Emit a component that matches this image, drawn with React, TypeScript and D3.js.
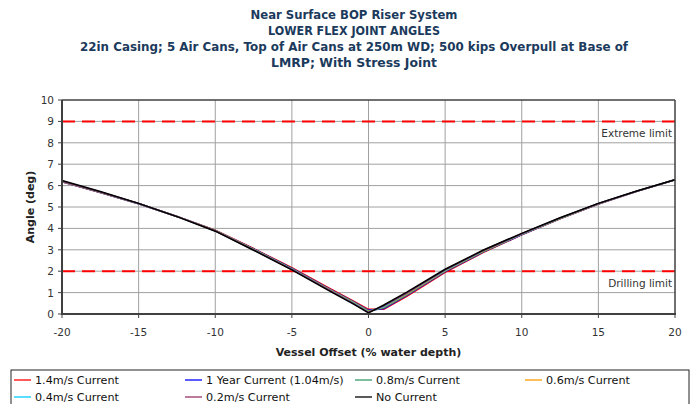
import React from "react";
import * as d3 from "d3";

const offsets = [-20, -17.5, -15, -12.5, -10, -7.5, -5, -2.5, -1, 0, 1, 2.5, 5, 7.5, 10, 12.5, 15, 17.5, 20];

const current14 = [6.18, 5.68, 5.15, 4.56, 3.92, 3.06, 2.16, 1.18, 0.61, 0.22, 0.22, 0.82, 1.95, 2.88, 3.70, 4.45, 5.14, 5.73, 6.27];
const current1yr = [6.18, 5.68, 5.15, 4.56, 3.91, 3.04, 2.13, 1.15, 0.58, 0.17, 0.26, 0.87, 1.98, 2.90, 3.71, 4.46, 5.14, 5.73, 6.27];
const current08 = [6.19, 5.69, 5.15, 4.56, 3.90, 3.03, 2.12, 1.13, 0.56, 0.14, 0.29, 0.90, 2.00, 2.92, 3.72, 4.46, 5.15, 5.73, 6.27];
const current06 = [6.19, 5.69, 5.16, 4.56, 3.90, 3.02, 2.10, 1.12, 0.54, 0.12, 0.32, 0.93, 2.02, 2.94, 3.73, 4.47, 5.15, 5.74, 6.27];
const current04 = [6.20, 5.70, 5.16, 4.56, 3.89, 3.01, 2.09, 1.10, 0.52, 0.10, 0.35, 0.96, 2.04, 2.96, 3.74, 4.48, 5.16, 5.74, 6.27];
const current02 = [6.20, 5.70, 5.16, 4.56, 3.89, 3.00, 2.08, 1.09, 0.50, 0.08, 0.38, 0.98, 2.06, 2.97, 3.75, 4.49, 5.16, 5.74, 6.27];
const noCurrent = [6.24, 5.72, 5.17, 4.55, 3.87, 2.98, 2.06, 1.06, 0.47, 0.05, 0.42, 1.02, 2.09, 2.99, 3.77, 4.50, 5.17, 5.75, 6.27];

const seriesNames = ["1.4m/s Current", "1 Year Current (1.04m/s)", "0.8m/s Current", "0.6m/s Current", "0.4m/s Current", "0.2m/s Current", "No Current"];
const seriesColors = ["#FF0000", "#0000FF", "#339966", "#FF9900", "#00CCFF", "#993366", "#000000"];
const seriesValues = [current14, current1yr, current08, current06, current04, current02, noCurrent];

const limitValues = [9, 2];
const limitLabels = ["Extreme limit", "Drilling limit"];

const xTicks = [-20, -15, -10, -5, 0, 5, 10, 15, 20];
const yTicks = [0, 1, 2, 3, 4, 5, 6, 7, 8, 9, 10];

const titleLines = [
  "Near Surface BOP Riser System",
  "LOWER FLEX JOINT ANGLES",
  "22in Casing; 5 Air Cans, Top of Air Cans at 250m WD; 500 kips Overpull at Base of",
  "LMRP; With Stress Joint",
];
const titleWidths = [207, 172, 548, 166];

const W = 691;
const H = 404;
const left = 62;
const right = 675;
const top = 100;
const bottom = 314;

const FONT = "'DejaVu Sans', Tahoma, sans-serif";
const TITLE_COLOR = "#1B3A5C";

export default function App() {
  const x = d3.scaleLinear().domain([-20, 20]).range([left, right]);
  const y = d3.scaleLinear().domain([0, 10]).range([bottom, top]);
  const line = d3
    .line<number>()
    .x((_, i) => x(offsets[i]))
    .y((d) => y(d));

  const legendCols = [14, 185, 355, 525];
  const legendRows = [380, 397];

  return (
    <div style={{ position: "absolute", left: 0, top: 0 }}>
      <svg width={W} height={H} style={{ display: "block", background: "#fff" }} fontFamily={FONT}>
        {titleLines.map((t, i) => (
          <text
            key={t}
            x={354}
            y={19 + i * 16}
            textAnchor="middle"
            fontWeight="bold"
            fontSize={12.5}
            fill={TITLE_COLOR}
            textLength={titleWidths[i]}
            lengthAdjust="spacingAndGlyphs"
          >
            {t}
          </text>
        ))}

        {/* gridlines */}
        {yTicks.slice(1, -1).map((v) => (
          <line key={"gy" + v} x1={left} x2={right} y1={y(v)} y2={y(v)} stroke="#A0A0A0" strokeWidth={1} />
        ))}
        {xTicks.slice(1, -1).map((v) => (
          <line key={"gx" + v} x1={x(v)} x2={x(v)} y1={top} y2={bottom} stroke="#A0A0A0" strokeWidth={1} />
        ))}

        {/* limits */}
        {limitValues.map((v, i) => (
          <g key={"lim" + v}>
            <line x1={left} x2={right} y1={y(v)} y2={y(v)} stroke="#FF0000" strokeWidth={2} strokeDasharray="13,7" />
            <text x={right - 3} y={y(v) + 16} textAnchor="end" fontSize={10.5} fill="#333">
              {limitLabels[i]}
            </text>
          </g>
        ))}

        {/* series */}
        {seriesValues.map((vals, i) => (
          <path key={seriesNames[i]} d={line(vals) || ""} fill="none" stroke={seriesColors[i]} strokeWidth={1.5} />
        ))}

        {/* frame */}
        <line x1={left} x2={right} y1={top} y2={top} stroke="#404040" strokeWidth={1.5} />
        <line x1={right} x2={right} y1={top} y2={bottom} stroke="#404040" strokeWidth={1.5} />
        <line x1={left} x2={left} y1={top} y2={bottom} stroke="#404040" strokeWidth={2} />
        <line x1={left - 1} x2={right + 1} y1={bottom} y2={bottom} stroke="#404040" strokeWidth={2.2} />

        {/* y ticks */}
        {yTicks.map((v) => (
          <g key={"yt" + v}>
            <line x1={left - 4} x2={left} y1={y(v)} y2={y(v)} stroke="#404040" strokeWidth={1} />
            <text x={54} y={y(v) + 4} textAnchor="end" fontSize={10.5} fill="#333">
              {v}
            </text>
          </g>
        ))}
        {/* x ticks */}
        {xTicks.map((v) => (
          <g key={"xt" + v}>
            <line x1={x(v)} x2={x(v)} y1={bottom} y2={bottom + 4} stroke="#404040" strokeWidth={1} />
            <text x={x(v)} y={336} textAnchor="middle" fontSize={10.5} fill="#333">
              {v}
            </text>
          </g>
        ))}

        <text
          transform={`translate(34,${(top + bottom) / 2}) rotate(-90)`}
          textAnchor="middle"
          fontWeight="bold"
          fontSize={11}
          fill="#222"
        >
          Angle (deg)
        </text>
        <text x={(left + right) / 2} y={356} textAnchor="middle" fontWeight="bold" fontSize={11} fill="#222">
          Vessel Offset (% water depth)
        </text>

        {/* legend */}
        <rect x={11} y={370} width={678} height={44} fill="#fff" stroke="#222" strokeWidth={1} />
        {seriesNames.map((n, i) => {
          const cx = legendCols[i % 4];
          const cy = legendRows[Math.floor(i / 4)];
          return (
            <g key={"lg" + n}>
              <line x1={cx} x2={cx + 17} y1={cy} y2={cy} stroke={seriesColors[i]} strokeWidth={1.3} />
              <text x={cx + 21} y={cy + 4} fontSize={11.2} fill="#111">
                {n}
              </text>
            </g>
          );
        })}
      </svg>
    </div>
  );
}
